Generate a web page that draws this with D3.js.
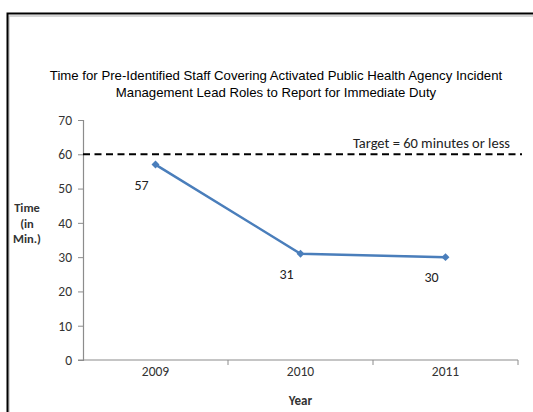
<!DOCTYPE html>
<html>
<head>
<meta charset="utf-8">
<script src="https://cdn.jsdelivr.net/npm/d3@7"></script>
<style>
  html, body { margin: 0; padding: 0; background: #fff; }
  svg { display: block; }
</style>
</head>
<body>
<svg id="chart" width="533" height="412"></svg>
<script>
// Chart data
const years = ["2009", "2010", "2011"];
const minutes = [57, 31, 30];
const targetValue = 60;
const yTicks = [0, 10, 20, 30, 40, 50, 60, 70];
const titleLines = [
  "Time for Pre-Identified Staff Covering Activated Public Health Agency Incident",
  "Management Lead Roles to Report for Immediate Duty"
];
const yTitleLines = ["Time", "(in", "Min.)"];
const xTitle = "Year";
const targetLabel = "Target = " + targetValue + " minutes or less";

const svg = d3.select("#chart");
const W = 533, H = 412;
const plot = { left: 83, right: 518, top: 120, bottom: 360 };
const bodyFont = "Carlito, Lato, 'Open Sans', sans-serif";
const titleFont = "Arial, 'Liberation Sans', sans-serif";

// Frame (top and left edges with a soft inner shadow)
svg.append("path")
  .attr("d", `M9,${H} V16 H${W}`)
  .attr("fill", "none").attr("stroke", "#c8c8c8").attr("stroke-width", 1.5);
svg.append("path")
  .attr("d", `M7.5,${H} V13.5 H${W}`)
  .attr("fill", "none").attr("stroke", "#000").attr("stroke-width", 2);

// Title
const title = svg.append("text")
  .attr("text-anchor", "middle")
  .attr("font-family", titleFont)
  .attr("font-size", 13.2)
  .attr("fill", "#000");
titleLines.forEach((line, i) => {
  title.append("tspan")
    .attr("x", 276).attr("y", 80 + i * 17)
    .text(line);
});

// Scales
const x = d3.scaleBand().domain(years).range([plot.left, plot.right]);
const y = d3.scaleLinear().domain([0, 70]).range([plot.bottom, plot.top]);

// Y axis
const yAxis = svg.append("g")
  .attr("transform", `translate(${plot.left},0)`)
  .call(d3.axisLeft(y).tickValues(yTicks).tickSize(5).tickPadding(6));
yAxis.select(".domain").attr("stroke", "#8c8c8c").attr("stroke-width", 1.2);
yAxis.selectAll(".tick line").attr("stroke", "#8c8c8c");
yAxis.selectAll(".tick text")
  .attr("font-family", bodyFont).attr("font-size", 13.5).attr("fill", "#333");

// X axis with ticks on category boundaries
const xAxisG = svg.append("g").attr("transform", `translate(0,${plot.bottom})`);
xAxisG.append("line")
  .attr("x1", plot.left - 5).attr("x2", plot.right)
  .attr("stroke", "#8c8c8c").attr("stroke-width", 1.2);
const boundaries = years.map(d => x(d)).concat([x(years[years.length - 1]) + x.bandwidth()]);
xAxisG.selectAll("line.bound").data(boundaries.slice(1)).join("line")
  .attr("class", "bound")
  .attr("x1", d => d).attr("x2", d => d)
  .attr("y1", 0).attr("y2", 5)
  .attr("stroke", "#8c8c8c");
xAxisG.selectAll("text").data(years).join("text")
  .attr("x", d => x(d) + x.bandwidth() / 2)
  .attr("y", 16)
  .attr("text-anchor", "middle")
  .attr("font-family", bodyFont).attr("font-size", 13.5).attr("fill", "#333")
  .text(d => d);

// Axis titles
const yTitle = svg.append("text")
  .attr("text-anchor", "middle")
  .attr("font-family", bodyFont).attr("font-size", 12.5)
  .attr("font-weight", 600).attr("fill", "#333");
yTitleLines.forEach((line, i) => {
  yTitle.append("tspan").attr("x", 27).attr("y", 212 + i * 15.5).text(line);
});
svg.append("text")
  .attr("x", (plot.left + plot.right) / 2).attr("y", 405)
  .attr("text-anchor", "middle")
  .attr("font-family", bodyFont).attr("font-size", 13)
  .attr("font-weight", 600).attr("fill", "#333")
  .text(xTitle);

// Target line
svg.append("line")
  .attr("x1", plot.left).attr("x2", plot.right + 4)
  .attr("y1", y(targetValue)).attr("y2", y(targetValue))
  .attr("stroke", "#000").attr("stroke-width", 2)
  .attr("stroke-dasharray", "7,4.5");
svg.append("text")
  .attr("x", 510).attr("y", y(targetValue) - 6)
  .attr("text-anchor", "end")
  .attr("font-family", bodyFont).attr("font-size", 14.5).attr("fill", "#222")
  .text(targetLabel);

// Series line with diamond markers
const pts = years.map((yr, i) => ({ yr, v: minutes[i] }));
const cx = d => x(d.yr) + x.bandwidth() / 2;
svg.append("path")
  .datum(pts)
  .attr("fill", "none")
  .attr("stroke", "#4a7ebb")
  .attr("stroke-width", 2.5)
  .attr("d", d3.line().x(cx).y(d => y(d.v)));
svg.selectAll("path.marker").data(pts).join("path")
  .attr("class", "marker")
  .attr("transform", d => `translate(${cx(d)},${y(d.v)})`)
  .attr("d", d3.symbol(d3.symbolDiamond2, 40)())
  .attr("fill", "#4a7ebb");

// Value labels
svg.selectAll("text.val").data(pts).join("text")
  .attr("class", "val")
  .attr("x", d => cx(d) - 14)
  .attr("y", d => y(d.v) + 25)
  .attr("text-anchor", "middle")
  .attr("font-family", bodyFont).attr("font-size", 14).attr("fill", "#222")
  .text(d => d.v);
</script>
</body>
</html>
